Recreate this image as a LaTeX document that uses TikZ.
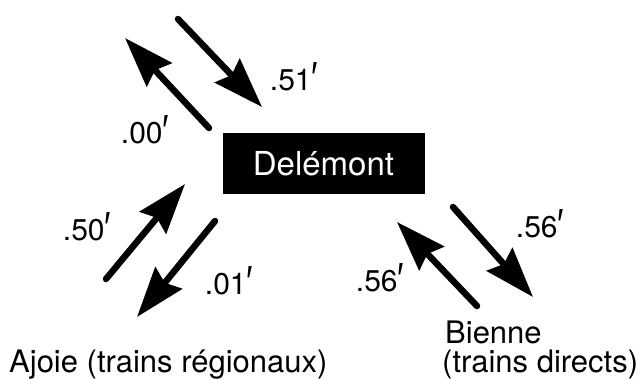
\documentclass[tikz,border=0pt]{standalone}
\usepackage{fontspec}
\setmainfont{TeX Gyre Heros}
\newfontfamily\primefont{Liberation Sans}
\newcommand{\pr}{{\primefont\raisebox{-3pt}{\scalebox{1.15}[1.5]{′}}}}
\usetikzlibrary{arrows.meta}
\tikzset{
  flow/.style={line width=6.5pt, line cap=round,
    -{Stealth[length=50pt,width=34pt,inset=6pt]}},
  lbl/.style={font=\fontsize{30}{30}\selectfont, inner sep=0pt},
  place/.style={font=\fontsize{31}{33}\selectfont, inner sep=0pt, align=left},
  station/.style={fill=black, text=white, minimum width=202pt, minimum height=61pt,
    inner sep=0pt, font=\fontsize{33}{33}\selectfont}
}
\begin{document}
\begin{tikzpicture}[x=1pt,y=-1pt]
\useasboundingbox (0,0) rectangle (641,380);
\node[station] (del) at (323.5,163.5) {Delémont};
% arrow endpoints
\coordinate (a1s) at (178,19);  \coordinate (a1e) at (262,107);
\coordinate (a2s) at (209,128); \coordinate (a2e) at (125,38);
\coordinate (a3s) at (106,279); \coordinate (a3e) at (185,184);
\coordinate (a4s) at (215,221); \coordinate (a4e) at (137,317);
\coordinate (a5s) at (453,207); \coordinate (a5e) at (533,297);
\coordinate (a6s) at (477,306); \coordinate (a6e) at (397,222);
\draw[flow] (a1s) -- (a1e);
\draw[flow] (a2s) -- (a2e);
\draw[flow] (a3s) -- (a3e);
\draw[flow] (a4s) -- (a4e);
\draw[flow] (a5s) -- (a5e);
\draw[flow] (a6s) -- (a6e);
\node[lbl] (l1) at (294,78) {.51\pr};
\node[lbl] (l2) at (145,131) {.00\pr};
\node[lbl] (l3) at (87,228) {.50\pr};
\node[lbl] (l4) at (229,282) {.01\pr};
\node[lbl] (l5) at (540,225) {.56\pr};
\node[lbl] (l6) at (380,279) {.56\pr};
\node[place, anchor=base west] (aj) at (9,372) {Ajoie (trains régionaux)};
\node[place, anchor=base west] (bi) at (445,343) {Bienne};
\node[place, anchor=base west] (bt) at (442,372) {(trains directs)};
\end{tikzpicture}
\end{document}
